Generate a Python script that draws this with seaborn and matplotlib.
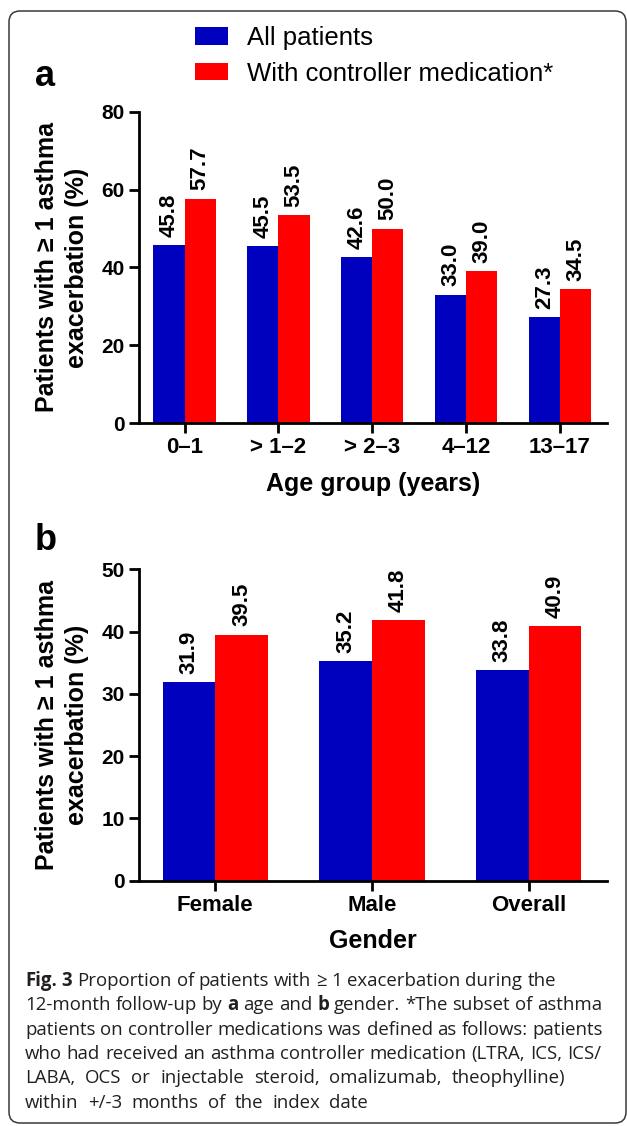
import numpy as np
import pandas as pd
import matplotlib
matplotlib.use("Agg")
import matplotlib.pyplot as plt
import seaborn as sns
from matplotlib.patches import Patch, FancyBboxPatch

# ---------------- data ----------------
series = ["All patients", "With controller medication*"]
age_groups = ["0\u20131", "> 1\u20132", "> 2\u20133", "4\u201312", "13\u201317"]
age_all = [45.8, 45.5, 42.6, 33.0, 27.3]
age_ctrl = [57.7, 53.5, 50.0, 39.0, 34.5]
genders = ["Female", "Male", "Overall"]
gender_all = [31.9, 35.2, 33.8]
gender_ctrl = [39.5, 41.8, 40.9]
yticks_a = [0, 20, 40, 60, 80]
yticks_b = [0, 10, 20, 30, 40, 50]
ylabel_text = "Patients with \u2265 1 asthma\nexacerbation (%)"
xlabel_a = "Age group (years)"
xlabel_b = "Gender"
caption_lines = [
    [("Fig. 3", True), ("Proportion of patients with \u2265 1 exacerbation during the", False)],
    [("12-month follow-up by", False), ("a", True), ("age and", False), ("b", True),
     ("gender. *The subset of asthma", False)],
    [("patients on controller medications was defined as follows: patients", False)],
    [("who had received an asthma controller medication (LTRA, ICS, ICS/", False)],
    [("LABA, OCS or injectable steroid, omalizumab, theophylline)", False)],
    [("within +/-3 months of the index date", False)],
]
caption_extra_space = [0, 0, 0, 0, 5, 4.5]

BLUE = "#0000BF"
RED = "#FF0000"

sns.set_theme(style="ticks")
plt.rcParams["font.family"] = ["Liberation Sans", "DejaVu Sans"]
plt.rcParams["text.color"] = "black"
plt.rcParams["axes.labelcolor"] = "black"
plt.rcParams["xtick.color"] = "black"
plt.rcParams["ytick.color"] = "black"
plt.rcParams["xtick.labelcolor"] = "black"
plt.rcParams["ytick.labelcolor"] = "black"

W, H = 627, 1126
fig = plt.figure(figsize=(W / 100, H / 100), dpi=100)


def ax_rect(x0, y_top, x1, y_bot):
    return [x0 / W, 1 - y_bot / H, (x1 - x0) / W, (y_bot - y_top) / H]


ax_a = fig.add_axes(ax_rect(138.5, 111.7, 607, 423.3))
ax_b = fig.add_axes(ax_rect(138.5, 569.3, 607, 880.7))

df_a = pd.DataFrame({
    "group": age_groups * 2,
    "pct": age_all + age_ctrl,
    "series": [series[0]] * len(age_groups) + [series[1]] * len(age_groups),
})
df_b = pd.DataFrame({
    "group": genders * 2,
    "pct": gender_all + gender_ctrl,
    "series": [series[0]] * len(genders) + [series[1]] * len(genders),
})


def draw(ax, df, width, yticks, xlabel, xlim):
    sns.barplot(data=df, x="group", y="pct", hue="series", palette=[BLUE, RED],
                width=width, gap=0, errorbar=None, legend=False, saturation=1,
                linewidth=0, ax=ax)
    ax.set_ylim(yticks[0], yticks[-1])
    ax.set_yticks(yticks)
    ax.set_xlim(*xlim)
    for s in ["top", "right"]:
        ax.spines[s].set_visible(False)
    for s in ["left", "bottom"]:
        ax.spines[s].set_linewidth(2.0)
        ax.spines[s].set_color("black")
    ax.tick_params(axis="both", direction="out", length=7, width=2, color="black",
                   labelcolor="black", pad=3)
    ax.tick_params(axis="y", labelsize=15)
    ax.tick_params(axis="x", labelsize=16)
    for lab in ax.get_xticklabels() + ax.get_yticklabels():
        lab.set_fontweight("bold")
    ax.set_ylabel(ylabel_text, fontsize=18, fontweight="bold", linespacing=1.3,
                  color="black")
    ax.yaxis.set_label_coords(-0.1067, 0.5)
    ax.set_xlabel(xlabel, fontsize=18, fontweight="bold", labelpad=10, color="black")
    for cont in ax.containers:
        ax.bar_label(cont, fmt="%.1f", rotation=90, padding=6, fontsize=16,
                     fontweight="bold", color="black")
    ax.set_facecolor("white")


draw(ax_a, df_a, 0.664, yticks_a, xlabel_a, (-0.49, 4.5))
draw(ax_b, df_b, 0.673, yticks_b, xlabel_b, (-0.49, 2.5))

# legend
handles = [Patch(facecolor=BLUE, edgecolor="none"), Patch(facecolor=RED, edgecolor="none")]
fig.legend(handles=handles, labels=series, loc="upper left",
           bbox_to_anchor=(195 / W, 1 - 26 / H), frameon=False, fontsize=18.5,
           handlelength=1.3, handleheight=0.65, handletextpad=0.74,
           labelspacing=0.45, borderpad=0, borderaxespad=0)

# panel letters
fig.text(35 / W, 1 - 86 / H, "a", fontsize=26, fontweight="bold", va="baseline")
fig.text(35 / W, 1 - 550 / H, "b", fontsize=26, fontweight="bold", va="baseline")

# border
border = FancyBboxPatch((9, H - 1123), 617, 1112, boxstyle="round,pad=0,rounding_size=11",
                        transform=None, facecolor="none", edgecolor="#3a3a3a",
                        linewidth=1.1, zorder=0)
fig.patches.append(border)

# caption
CAP_FS = 13.4
CAP_FAM = ["Open Sans", "DejaVu Sans"]
CAP_COL = "#231f20"
renderer = fig.canvas.get_renderer()


def text_width(s, bold):
    t = fig.text(0, 0, s, fontsize=CAP_FS, family=CAP_FAM,
                 fontweight="bold" if bold else "normal")
    w = t.get_window_extent(renderer).width
    t.remove()
    return w


space_w = text_width("n n", False) - text_width("nn", False)
x0 = 25
base0 = 986
line_step = 24.3
for i, line in enumerate(caption_lines):
    words = []
    for seg, bold in line:
        for wd in seg.split(" "):
            words.append((wd, bold))
    x = x0
    y = base0 + i * line_step
    for wd, bold in words:
        fig.text(x / W, 1 - y / H, wd, fontsize=CAP_FS, family=CAP_FAM,
                 fontweight="bold" if bold else "normal", color=CAP_COL,
                 va="baseline", ha="left")
        x += text_width(wd, bold) + space_w + caption_extra_space[i]

fig.savefig("out.png", dpi=100, facecolor="white")
